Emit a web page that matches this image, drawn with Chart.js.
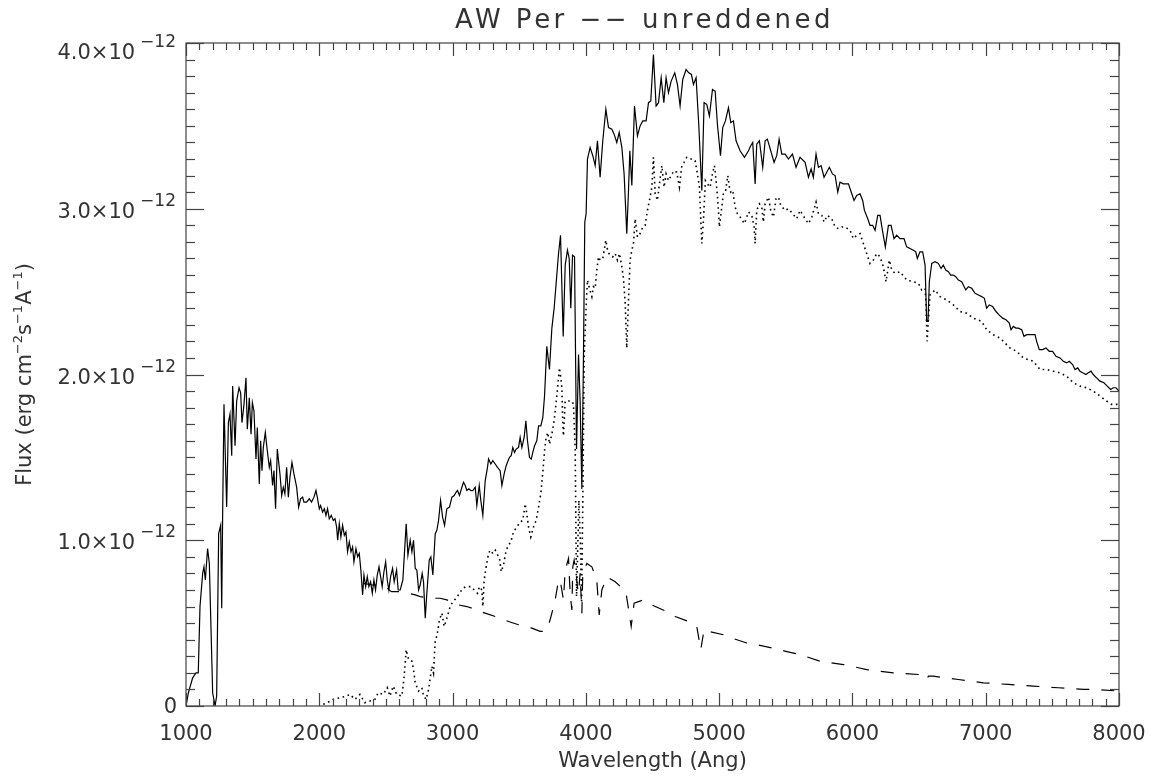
<!DOCTYPE html>
<html>
<head>
<meta charset="utf-8">
<script src="https://cdn.jsdelivr.net/npm/chart.js@4.4.1/dist/chart.umd.min.js"></script>
<style>
  html, body { margin: 0; background: #fff; }
  canvas { display: block; }
</style>
</head>
<body>
<canvas id="spec" width="1152" height="779"></canvas>
<script>
// flux values are in units of 1e-12 erg cm^-2 s^-1 A^-1, wavelengths in Angstrom

// total (observed) spectrum - solid
const solidWave = [
  1000, 1018, 1050, 1075, 1092, 1105, 1125, 1135, 1145, 1162, 1175, 1200, 1218, 1230, 1245, 1260, 1268, 1275, 1285, 1305,
  1318, 1330, 1343, 1350, 1368, 1380, 1398, 1410, 1420, 1435, 1450, 1460, 1475, 1488, 1498, 1510, 1525, 1535, 1550, 1560,
  1570, 1580, 1595, 1610, 1625, 1635, 1650, 1660, 1672, 1685, 1705, 1718, 1730, 1742, 1755, 1768, 1780, 1795, 1810, 1830,
  1845, 1860, 1875, 1885, 1905, 1925, 1942, 1960, 1975, 1985, 2000, 2010, 2025, 2038, 2050, 2062, 2075, 2090, 2105, 2118,
  2130, 2138, 2150, 2162, 2175, 2188, 2200, 2212, 2225, 2238, 2250, 2260, 2275, 2288, 2300, 2312, 2325, 2335, 2348, 2360,
  2372, 2385, 2398, 2410, 2422, 2435, 2448, 2460, 2472, 2485, 2498, 2510, 2522, 2535, 2550, 2562, 2580, 2592, 2607, 2627,
  2652, 2665, 2682, 2695, 2707, 2720, 2732, 2745, 2757, 2772, 2782, 2795, 2807, 2825, 2837, 2852, 2870, 2882, 2895, 2910,
  2925, 2940, 2957, 2977, 2995, 3012, 3027, 3037, 3052, 3070, 3082, 3095, 3107, 3122, 3137, 3152, 3170, 3182, 3200, 3212,
  3227, 3245, 3262, 3270, 3287, 3302, 3320, 3337, 3357, 3370, 3387, 3402, 3412, 3427, 3440, 3452, 3465, 3477, 3495, 3507,
  3520, 3537, 3550, 3562, 3577, 3590, 3602, 3615, 3632, 3645, 3662, 3677, 3690, 3707, 3727, 3745, 3762, 3777, 3795, 3810,
  3830, 3845, 3862, 3875, 3887, 3900, 3915, 3930, 3945, 3957, 3970, 3982, 3992, 4002, 4012, 4032, 4052, 4070, 4087, 4107,
  4127, 4150, 4170, 4195, 4212, 4232, 4250, 4270, 4287, 4307, 4320, 4330, 4345, 4365, 4387, 4407, 4427, 4452, 4470, 4487,
  4507, 4527, 4545, 4565, 4585, 4602, 4620, 4640, 4667, 4687, 4707, 4727, 4752, 4772, 4792, 4807, 4827, 4847, 4870, 4887,
  4907, 4927, 4950, 4970, 4987, 5010, 5027, 5047, 5070, 5087, 5107, 5127, 5157, 5190, 5220, 5237, 5252, 5270, 5282, 5302,
  5327, 5345, 5362, 5387, 5412, 5432, 5450, 5470, 5495, 5520, 5550, 5577, 5607, 5645, 5670, 5690, 5707, 5727, 5745, 5765,
  5787, 5807, 5827, 5850, 5870, 5890, 5907, 5932, 5970, 5987, 6012, 6032, 6057, 6077, 6090, 6115, 6132, 6152, 6170, 6190,
  6207, 6227, 6247, 6270, 6290, 6312, 6332, 6357, 6387, 6407, 6432, 6457, 6475, 6487, 6507, 6527, 6545, 6557, 6567, 6577,
  6595, 6620, 6645, 6665, 6682, 6700, 6720, 6737, 6757, 6775, 6795, 6820, 6850, 6870, 6895, 6920, 6945, 6970, 6990, 7007,
  7027, 7052, 7077, 7100, 7127, 7152, 7177, 7190, 7207, 7227, 7245, 7270, 7287, 7307, 7332, 7350, 7370, 7382, 7402, 7427,
  7452, 7477, 7502, 7527, 7557, 7582, 7607, 7627, 7652, 7670, 7690, 7707, 7727, 7752, 7770, 7790, 7807, 7832, 7857, 7887,
  7912, 7937, 7957, 7977, 8000
];
const solidFlux = [
  0.00, 0.08, 0.17, 0.20, 0.20, 0.60, 0.80, 0.84, 0.76, 0.95, 0.86, 0.08, 0.00, 0.06, 1.04, 1.09, 0.59, 1.16, 1.82, 1.20,
  1.71, 1.76, 1.51, 1.93, 1.57, 1.84, 1.92, 1.89, 1.71, 1.82, 1.98, 1.67, 1.86, 1.64, 1.83, 1.78, 1.49, 1.68, 1.34, 1.60,
  1.42, 1.56, 1.65, 1.54, 1.44, 1.48, 1.33, 1.42, 1.19, 1.55, 1.40, 1.27, 1.32, 1.28, 1.44, 1.26, 1.38, 1.47, 1.40, 1.32,
  1.20, 1.25, 1.26, 1.23, 1.23, 1.25, 1.23, 1.26, 1.30, 1.26, 1.19, 1.21, 1.17, 1.19, 1.15, 1.19, 1.13, 1.15, 1.12, 1.13,
  1.08, 1.00, 1.10, 1.02, 1.09, 1.03, 1.05, 0.93, 0.99, 0.93, 0.96, 0.87, 0.95, 0.90, 0.92, 0.82, 0.67, 0.79, 0.72, 0.78,
  0.72, 0.75, 0.68, 0.76, 0.70, 0.79, 0.84, 0.78, 0.72, 0.81, 0.87, 0.76, 0.70, 0.78, 0.83, 0.75, 0.82, 0.70, 0.70, 0.76,
  1.10, 0.91, 1.00, 0.93, 1.00, 0.83, 0.82, 0.70, 0.73, 0.80, 0.75, 0.53, 0.68, 0.88, 0.90, 0.79, 1.04, 1.06, 1.12, 1.24,
  1.14, 1.09, 1.19, 1.20, 1.26, 1.27, 1.29, 1.30, 1.27, 1.32, 1.35, 1.33, 1.30, 1.31, 1.30, 1.30, 1.32, 1.21, 1.33, 1.24,
  1.15, 1.36, 1.44, 1.49, 1.46, 1.48, 1.46, 1.44, 1.42, 1.33, 1.40, 1.45, 1.47, 1.50, 1.51, 1.56, 1.53, 1.55, 1.56, 1.62,
  1.56, 1.62, 1.72, 1.60, 1.50, 1.49, 1.53, 1.57, 1.60, 1.69, 1.69, 1.74, 1.87, 2.17, 2.03, 2.28, 2.40, 2.55, 2.73, 2.84,
  2.23, 2.66, 2.75, 2.70, 2.40, 2.72, 2.71, 1.55, 2.12, 1.84, 1.31, 2.10, 2.92, 2.97, 3.30, 3.37, 3.32, 3.26, 3.41, 3.19,
  3.41, 3.60, 3.49, 3.48, 3.45, 3.40, 3.46, 3.37, 3.21, 2.85, 3.11, 3.35, 3.14, 3.62, 3.44, 3.50, 3.53, 3.53, 3.64, 3.65,
  3.93, 3.62, 3.64, 3.79, 3.64, 3.79, 3.70, 3.77, 3.82, 3.75, 3.62, 3.78, 3.84, 3.82, 3.81, 3.75, 3.79, 3.51, 3.11, 3.64,
  3.63, 3.56, 3.72, 3.71, 3.51, 3.32, 3.49, 3.53, 3.61, 3.52, 3.53, 3.41, 3.35, 3.31, 3.35, 3.38, 3.40, 3.15, 3.39, 3.41,
  3.25, 3.41, 3.42, 3.35, 3.28, 3.32, 3.42, 3.33, 3.33, 3.30, 3.33, 3.25, 3.31, 3.28, 3.19, 3.24, 3.19, 3.33, 3.25, 3.26,
  3.19, 3.22, 3.25, 3.21, 3.20, 3.10, 3.16, 3.15, 3.15, 3.11, 3.05, 3.08, 3.09, 3.05, 2.99, 2.94, 2.90, 2.90, 2.87, 2.96,
  2.96, 2.86, 2.77, 2.90, 2.90, 2.82, 2.84, 2.82, 2.82, 2.77, 2.76, 2.75, 2.74, 2.70, 2.74, 2.74, 2.66, 2.32, 2.32, 2.56,
  2.67, 2.68, 2.67, 2.64, 2.66, 2.63, 2.62, 2.60, 2.60, 2.59, 2.57, 2.56, 2.51, 2.53, 2.52, 2.49, 2.48, 2.47, 2.46, 2.40,
  2.42, 2.41, 2.38, 2.36, 2.34, 2.33, 2.31, 2.27, 2.29, 2.28, 2.28, 2.27, 2.23, 2.24, 2.24, 2.24, 2.24, 2.20, 2.15, 2.15,
  2.16, 2.14, 2.14, 2.11, 2.10, 2.08, 2.07, 2.08, 2.06, 2.03, 2.04, 2.02, 2.01, 2.00, 2.01, 2.02, 2.00, 1.98, 1.96, 1.95,
  1.93, 1.91, 1.92, 1.92, 1.90
];

// cool component - dotted
const dottedWave = [
  2030, 2060, 2105, 2155, 2205, 2230, 2268, 2305, 2342, 2380, 2418, 2442, 2480, 2510, 2530, 2555, 2580, 2620, 2637, 2652,
  2670, 2695, 2707, 2720, 2745, 2770, 2782, 2802, 2820, 2845, 2857, 2870, 2882, 2902, 2920, 2937, 2957, 2982, 3002, 3027,
  3052, 3077, 3102, 3120, 3137, 3162, 3187, 3202, 3220, 3227, 3237, 3252, 3270, 3282, 3302, 3320, 3352, 3365, 3382, 3402,
  3420, 3437, 3457, 3482, 3507, 3527, 3545, 3557, 3570, 3587, 3607, 3627, 3645, 3662, 3677, 3690, 3702, 3715, 3727, 3745,
  3762, 3782, 3802, 3812, 3820, 3827, 3832, 3845, 3870, 3895, 3907, 3920, 3930, 3948, 3960, 3968, 3978, 3987, 4002, 4012,
  4027, 4045, 4057, 4070, 4082, 4095, 4107, 4127, 4150, 4165, 4182, 4202, 4220, 4237, 4252, 4270, 4282, 4295, 4307, 4320,
  4332, 4345, 4357, 4370, 4387, 4407, 4427, 4445, 4462, 4482, 4495, 4507, 4520, 4537, 4552, 4570, 4587, 4602, 4620, 4640,
  4662, 4682, 4702, 4720, 4737, 4757, 4777, 4802, 4820, 4837, 4852, 4870, 4882, 4897, 4912, 4932, 4952, 4965, 4977, 4990,
  5002, 5020, 5032, 5047, 5065, 5077, 5087, 5102, 5120, 5137, 5157, 5190, 5220, 5245, 5262, 5270, 5282, 5302, 5320, 5332,
  5345, 5370, 5387, 5407, 5427, 5445, 5462, 5495, 5520, 5552, 5582, 5607, 5645, 5670, 5695, 5727, 5745, 5770, 5787, 5812,
  5845, 5870, 5895, 5920, 5945, 5982, 6007, 6032, 6057, 6082, 6107, 6132, 6157, 6182, 6207, 6232, 6252, 6277, 6295, 6320,
  6357, 6407, 6457, 6495, 6520, 6545, 6552, 6560, 6570, 6582, 6620, 6657, 6707, 6757, 6807, 6857, 6907, 6970, 7007, 7057,
  7107, 7182, 7232, 7282, 7357, 7407, 7457, 7507, 7557, 7607, 7657, 7707, 7757, 7807, 7857, 7907, 7945, 8000
];
const dottedFlux = [
  0.01, 0.02, 0.04, 0.05, 0.06, 0.07, 0.04, 0.07, 0.02, 0.03, 0.04, 0.08, 0.07, 0.11, 0.06, 0.12, 0.07, 0.06, 0.18, 0.34,
  0.28, 0.27, 0.22, 0.14, 0.09, 0.11, 0.06, 0.04, 0.10, 0.24, 0.20, 0.40, 0.42, 0.52, 0.56, 0.48, 0.53, 0.60, 0.63, 0.65,
  0.68, 0.71, 0.72, 0.72, 0.72, 0.70, 0.68, 0.72, 0.70, 0.60, 0.76, 0.84, 0.92, 0.94, 0.92, 0.94, 0.89, 0.81, 0.85, 0.94,
  0.97, 0.99, 1.05, 1.08, 1.11, 1.12, 1.22, 1.16, 1.08, 1.02, 1.08, 1.12, 1.20, 1.28, 1.41, 1.54, 1.62, 1.65, 1.58, 1.64,
  1.72, 1.87, 2.04, 1.98, 1.92, 1.70, 1.63, 1.84, 1.84, 1.84, 1.82, 1.55, 0.66, 1.24, 0.95, 0.62, 1.30, 2.10, 2.41, 2.57,
  2.52, 2.47, 2.53, 2.52, 2.63, 2.71, 2.69, 2.70, 2.81, 2.74, 2.72, 2.71, 2.73, 2.69, 2.73, 2.65, 2.58, 2.43, 2.16, 2.45,
  2.69, 2.75, 2.79, 2.94, 2.83, 2.85, 2.89, 2.90, 2.99, 3.07, 3.13, 3.31, 3.09, 3.05, 3.15, 3.26, 3.13, 3.21, 3.17, 3.20,
  3.23, 3.22, 3.13, 3.26, 3.28, 3.31, 3.30, 3.30, 3.29, 3.21, 3.13, 2.79, 2.93, 3.17, 3.15, 3.13, 3.22, 3.26, 3.17, 3.05,
  2.89, 3.01, 3.09, 3.10, 3.20, 3.13, 3.10, 3.11, 3.01, 2.97, 2.95, 2.91, 2.98, 2.96, 2.89, 2.79, 2.99, 3.03, 3.01, 2.92,
  3.03, 3.07, 2.99, 2.95, 3.06, 3.07, 3.02, 2.99, 3.00, 2.97, 2.94, 2.99, 2.94, 2.91, 2.95, 3.04, 2.97, 2.96, 2.92, 2.96,
  2.94, 2.89, 2.88, 2.89, 2.89, 2.87, 2.82, 2.84, 2.85, 2.79, 2.73, 2.67, 2.69, 2.73, 2.71, 2.65, 2.56, 2.69, 2.63, 2.61,
  2.62, 2.57, 2.56, 2.55, 2.51, 2.52, 2.43, 2.20, 2.33, 2.48, 2.51, 2.47, 2.45, 2.42, 2.38, 2.37, 2.34, 2.32, 2.27, 2.24,
  2.22, 2.16, 2.14, 2.10, 2.08, 2.03, 2.03, 2.02, 2.01, 1.99, 1.95, 1.93, 1.92, 1.90, 1.87, 1.84, 1.82, 1.82
];

// hot component - dashed
const dashedWave = [
  2330, 2400, 2467, 2492, 2542, 2605, 2667, 2720, 2757, 2845, 2907, 2957, 2995, 3045, 3107, 3145, 3245, 3320, 3420, 3495,
  3595, 3657, 3682, 3707, 3732, 3770, 3795, 3807, 3832, 3845, 3870, 3882, 3895, 3902, 3912, 3927, 3937, 3945, 3957, 3970,
  3977, 4007, 4045, 4082, 4100, 4120, 4157, 4220, 4300, 4340, 4362, 4432, 4495, 4607, 4670, 4770, 4832, 4862, 4887, 4920,
  5032, 5095, 5207, 5282, 5400, 5500, 5607, 5757, 5932, 6107, 6307, 6495, 6545, 6557, 6570, 6607, 6795, 6982, 7170, 7357,
  7545, 7732, 7820, 8000
];
const dashedFlux = [
  0.74, 0.73, 0.73, 0.72, 0.69, 0.69, 0.68, 0.67, 0.66, 0.65, 0.65, 0.64, 0.63, 0.61, 0.60, 0.59, 0.56, 0.54, 0.51, 0.49,
  0.47, 0.45, 0.45, 0.46, 0.52, 0.64, 0.76, 0.76, 0.64, 0.82, 0.89, 0.68, 0.58, 0.84, 0.88, 0.80, 0.72, 0.68, 0.80, 0.56,
  0.80, 0.86, 0.84, 0.76, 0.55, 0.70, 0.78, 0.75, 0.69, 0.48, 0.62, 0.64, 0.61, 0.57, 0.54, 0.51, 0.48, 0.34, 0.46, 0.45,
  0.43, 0.41, 0.38, 0.37, 0.35, 0.33, 0.31, 0.27, 0.25, 0.22, 0.20, 0.19, 0.16, 0.16, 0.18, 0.18, 0.16, 0.14, 0.13, 0.12,
  0.11, 0.10, 0.10, 0.09
];

// axes
const xTickValues = [1000, 2000, 3000, 4000, 5000, 6000, 7000, 8000];
const xTickLabels = ['1000', '2000', '3000', '4000', '5000', '6000', '7000', '8000'];
const yTickValues = [0, 1, 2, 3, 4];
const yTickLabels = ['0', '1.0', '2.0', '3.0', '4.0'];
const yExponent = '\u221212';

const FONT = '"DejaVu Sans", sans-serif';
const INK = '#333';

function toPoints(wave, flux) {
  return wave.map((w, i) => ({ x: w, y: flux[i] }));
}

function series(wave, flux, dash, width) {
  return {
    data: toPoints(wave, flux),
    borderColor: '#000',
    borderWidth: width,
    borderDash: dash,
    pointRadius: 0,
    tension: 0,
    fill: false,
  };
}

// box with inward ticks on all four sides, plus the text, IDL style
const idlFrame = {
  id: 'idlFrame',
  afterDraw(chart) {
    const { ctx, chartArea: a, scales } = chart;
    const xs = scales.x, ys = scales.y;
    ctx.save();
    ctx.strokeStyle = '#444';
    ctx.lineWidth = 1.2;
    ctx.strokeRect(a.left, a.top, a.right - a.left, a.bottom - a.top);

    const seg = (x1, y1, x2, y2) => {
      ctx.beginPath();
      ctx.moveTo(x1, y1);
      ctx.lineTo(x2, y2);
      ctx.stroke();
    };

    // x ticks: minor every 100 A
    for (let w = xs.min; w <= xs.max; w += 100) {
      const px = Math.round(xs.getPixelForValue(w)) + 0.5;
      const len = w % 1000 === 0 ? 13 : 7;
      seg(px, a.bottom, px, a.bottom - len);
      seg(px, a.top, px, a.top + len);
    }
    // y ticks: minor every 0.1
    for (let k = 0; k <= 40; k++) {
      const py = Math.round(ys.getPixelForValue(k / 10)) + 0.5;
      const len = k % 10 === 0 ? 18 : 9;
      seg(a.left, py, a.left + len, py);
      seg(a.right, py, a.right - len, py);
    }

    ctx.fillStyle = INK;
    ctx.textBaseline = 'alphabetic';

    // x tick labels
    ctx.font = '21px ' + FONT;
    ctx.textAlign = 'center';
    xTickValues.forEach((v, i) => {
      ctx.fillText(xTickLabels[i], xs.getPixelForValue(v), a.bottom + 34);
    });

    // y tick labels with a power-of-ten superscript
    yTickValues.forEach((v, i) => {
      const py = ys.getPixelForValue(v);
      ctx.textAlign = 'right';
      if (v === 0) {
        ctx.font = '21px ' + FONT;
        ctx.fillText(yTickLabels[i], 177, py + 7);
        return;
      }
      const drop = v === 4 ? 16 : 9;
      ctx.font = '17px ' + FONT;
      ctx.fillText(yExponent, 176, py + drop - 12);
      const w = ctx.measureText(yExponent).width;
      ctx.font = '21px ' + FONT;
      ctx.fillText(yTickLabels[i] + '\u00d710', 176 - w - 5, py + drop);
    });

    // title, spread out like the vector font
    ctx.textAlign = 'center';
    ctx.font = '26px ' + FONT;
    ctx.letterSpacing = '3.5px';
    ctx.fillText('AW Per \u2212\u2212 unreddened', (a.left + a.right) / 2 - 8, 28);
    ctx.letterSpacing = '0px';

    // x axis title
    ctx.font = '21px ' + FONT;
    ctx.fillText('Wavelength (Ang)', (a.left + a.right) / 2, a.bottom + 61);

    // y axis title, rotated, with superscripts
    const parts = [
      ['Flux (erg cm', 0], ['\u22122', 1], ['s', 0], ['\u22121', 1], ['A', 0], ['\u22121', 1], [')', 0],
    ];
    const fontOf = (sup) => (sup ? '13px ' : '21px ') + FONT;
    let total = 0;
    parts.forEach(([t, sup]) => { ctx.font = fontOf(sup); total += ctx.measureText(t).width; });
    ctx.translate(31, (a.top + a.bottom) / 2);
    ctx.rotate(-Math.PI / 2);
    ctx.textAlign = 'left';
    let cx = -total / 2;
    parts.forEach(([t, sup]) => {
      ctx.font = fontOf(sup);
      ctx.fillText(t, cx, sup ? -9 : 0);
      cx += ctx.measureText(t).width;
    });
    ctx.restore();
  },
};

const chart = new Chart(document.getElementById('spec'), {
  type: 'line',
  data: {
    datasets: [
      series(solidWave, solidFlux, [], 1.2),
      series(dottedWave, dottedFlux, [1.6, 3.6], 1.6),
      series(dashedWave, dashedFlux, [13, 12], 1.2),
    ],
  },
  options: {
    responsive: false,
    animation: false,
    devicePixelRatio: 1,
    layout: { padding: { left: 186, right: 33, top: 43, bottom: 73 } },
    plugins: { legend: { display: false }, tooltip: { enabled: false } },
    scales: {
      x: { type: 'linear', min: 1000, max: 8000, display: false },
      y: { type: 'linear', min: 0, max: 4, display: false },
    },
  },
  plugins: [idlFrame],
});
</script>
</body>
</html>
